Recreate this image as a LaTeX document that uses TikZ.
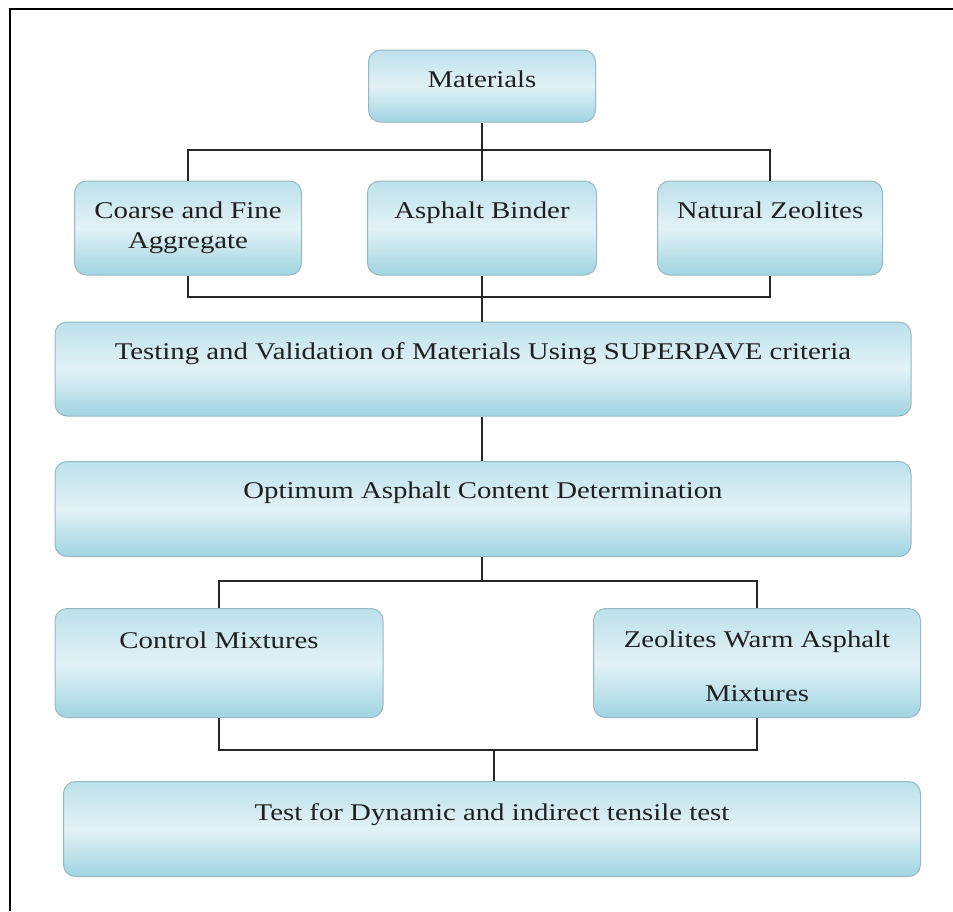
\documentclass[tikz,border=0pt]{standalone}
\usepackage{fontspec}
\setmainfont[FakeStretch=1.2]{Liberation Serif}
\definecolor{boxlight}{RGB}{226,242,246}
\definecolor{boxdark}{RGB}{160,212,226}
\definecolor{boxedge}{RGB}{150,185,195}
\newcommand\lift[2]{\raisebox{#1}[0pt][0pt]{#2}}
\tikzset{
  stagebox/.style={draw=boxedge, line width=1pt, rounded corners=12pt,
    top color=boxdark!70!white, bottom color=boxdark, middle color=boxlight,
    inner sep=0pt, font=\fontsize{24}{28}\selectfont, text=black!88},
  bus/.style={draw=black!85, line width=1.6pt},
  frameline/.style={draw=black, line width=2pt}
}
\begin{document}
\begin{tikzpicture}[x=1pt,y=-1pt]
\useasboundingbox (0,0) rectangle (953,911);
\coordinate (fTL) at (10,9);
\coordinate (fTR) at (953,9);
\coordinate (fBL) at (10,911);
\draw[frameline] (fTR) -- (fTL) -- (fBL);

\node[stagebox, minimum width=227pt, minimum height=72pt] (mat) at (482,86) {\lift{-1pt}{Materials}};
\node[stagebox, minimum width=227pt, minimum height=94pt] (coarse) at (188,228)
  {\lift{-6pt}{\begin{tabular}{@{}c@{}}Coarse and Fine\\[2pt]Aggregate\end{tabular}}};
\node[stagebox, minimum width=229pt, minimum height=94pt] (binder) at (482,228) {\lift{10pt}{Asphalt Binder}};
\node[stagebox, minimum width=225pt, minimum height=94pt] (zeol) at (770,228) {\lift{10pt}{Natural Zeolites}};
\node[stagebox, minimum width=856pt, minimum height=94pt] (test) at (483,369)
  {\lift{10pt}{Testing and Validation of Materials Using SUPERPAVE criteria}};
\node[stagebox, minimum width=856pt, minimum height=95pt] (opt) at (483,509)
  {\lift{11pt}{Optimum Asphalt Content Determination}};
\node[stagebox, minimum width=328pt, minimum height=109pt] (ctrl) at (219,663) {\lift{15pt}{Control Mixtures}};
\node[stagebox, minimum width=327pt, minimum height=109pt] (warm) at (757,663)
  {\lift{-12pt}{\begin{tabular}{@{}c@{}}Zeolites Warm Asphalt\\[26pt]Mixtures\end{tabular}}};
\node[stagebox, minimum width=857pt, minimum height=95pt] (final) at (492,829)
  {\lift{9pt}{Test for Dynamic and indirect tensile test}};

% upper bus
\coordinate (b1) at (482,150);
\coordinate (b2) at (482,297);
\draw[bus] (mat.south) -- (binder.north);
\draw[bus] (coarse.north) |- (b1) -| (zeol.north);
\draw[bus] (coarse.south) |- (b2) -| (zeol.south);
\draw[bus] (binder.south) -- (test.north -| binder.south);
\draw[bus] (test.south -| binder.south) -- (opt.north -| binder.south);
% middle bus
\coordinate (b3) at (482,581);
\draw[bus] (opt.south -| b3) -- (b3);
\draw[bus] (ctrl.north) |- (b3) -| (warm.north);
% lower bus
\coordinate (b4) at (494,750);
\draw[bus] (ctrl.south) |- (b4) -| (warm.south);
\draw[bus] (b4) -- (final.north -| b4);
\end{tikzpicture}
\end{document}
